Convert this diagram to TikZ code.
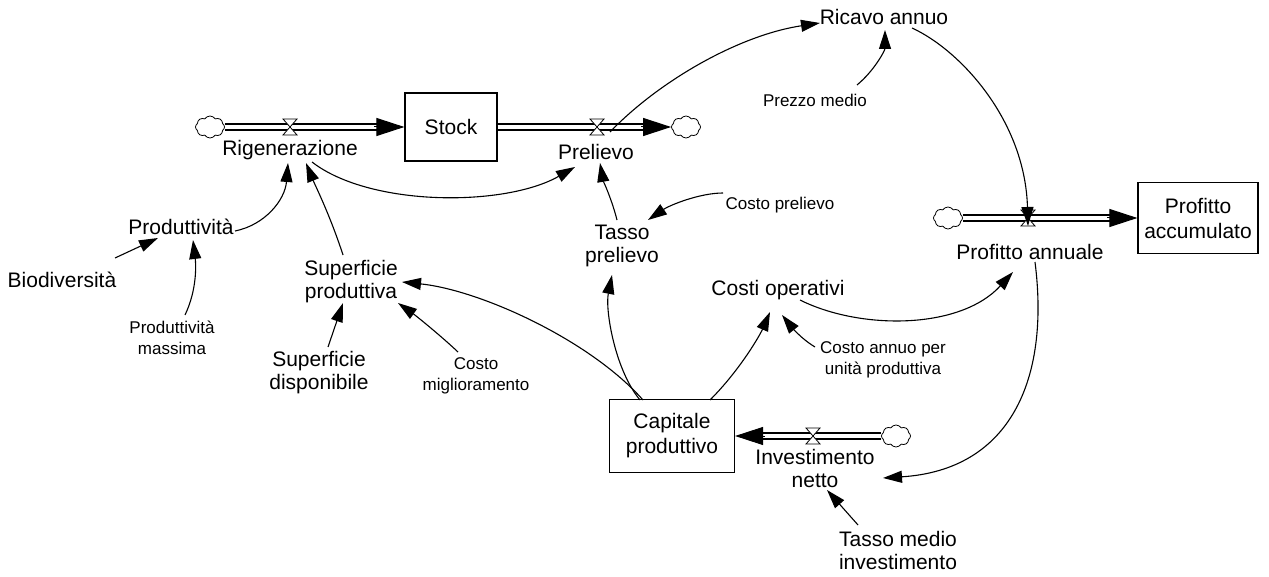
\documentclass[tikz,border=0pt]{standalone}
\usepackage{fontspec}
\setmainfont{Liberation Sans}
\usetikzlibrary{arrows.meta,shapes.symbols,calc}

\begin{document}
\begin{tikzpicture}[x=1pt,y=-1pt,
  lbl/.style={font=\fontsize{21}{23}\selectfont, align=center, inner sep=0pt},
  sml/.style={font=\fontsize{17}{21.5}\selectfont, align=center, inner sep=0pt},
  stockbox/.style={draw, line width=1.2pt, inner sep=0pt, align=center,
    font=\fontsize{21}{25}\selectfont},
  cloudy/.style={cloud, cloud puffs=8, cloud puff arc=115, aspect=1.3, draw,
    line width=0.8pt, fill=white, minimum width=29pt, minimum height=22pt, inner sep=0pt},
  pipe/.style={double, double distance=4.5pt, line width=1.6pt, shorten >=26pt},
  pipetip/.style={-{Triangle[length=28pt,width=18pt]}, line width=1pt},
  link/.style={line width=1.1pt, -{Triangle[length=19pt,width=12pt]}},
  valve/.pic={\draw[fill=white, line width=0.8pt] (-7,-8) -- (7,-8) -- (-7,8) -- (7,8) -- cycle;}
]
\useasboundingbox (0,0) rectangle (1269,577);

% stocks
\node[stockbox, minimum width=92pt, minimum height=68pt] (stock) at (451,127) {Stock};
\node[stockbox, minimum width=120pt, minimum height=71pt] (pacc) at (1198,218) {Profitto\\accumulato};
\node[stockbox, minimum width=125pt, minimum height=73pt] (cap) at (672,436) {Capitale\\produttivo};

% sources and sinks
\node[cloudy] (c1) at (210,127) {};
\node[cloudy] (c2) at (686,127) {};
\node[cloudy] (c3) at (948,218) {};
\node[cloudy] (c4) at (896,436) {};

% valve positions
\coordinate (v1) at (290,127);
\coordinate (v2) at (597,127);
\coordinate (v3) at (1028,218);
\coordinate (v4) at (813,436);

% flow pipes
\draw[pipe] (c1.east) -- (stock.west);
\draw[pipetip] ([xshift=-30pt]stock.west) -- (stock.west);
\draw[pipe] (stock.east) -- (c2.west);
\draw[pipetip] ([xshift=-30pt]c2.west) -- (c2.west);
\draw[pipe] (c3.east) -- (pacc.west);
\draw[pipetip] ([xshift=-30pt]pacc.west) -- (pacc.west);
\draw[pipe] (c4.west) -- (cap.east);
\draw[pipetip] ([xshift=30pt]cap.east) -- (cap.east);

\pic at (v1) {valve};
\pic at (v2) {valve};
\pic at (v3) {valve};
\pic at (v4) {valve};

% variables
\node[lbl] (rig) at (290,150) {Rigenerazione};
\node[lbl] (prel) at (596,152) {Prelievo};
\node[lbl] (ricavo) at (884,17) {Ricavo annuo};
\node[sml] (prezzo) at (815,100) {Prezzo medio};
\node[lbl] (profann) at (1030,252) {Profitto annuale};
\node[lbl] (inv) at (815,468) {Investimento\\netto};
\node[lbl] (tmi) at (898,550) {Tasso medio\\investimento};
\node[lbl] (costiop) at (778,290) {Costi operativi};
\node[sml] (cau) at (883,360) {Costo annuo per\\unità produttiva};
\node[lbl] (tassop) at (622,246) {Tasso\\prelievo};
\node[sml] (costop) at (780,205) {Costo prelievo};
\node[lbl] (supprod) at (351,282) {Superficie\\produttiva};
\node[sml] (costmig) at (476,376) {Costo\\miglioramento};
\node[lbl] (supdisp) at (319,373) {Superficie\\disponibile};
\node[lbl] (produtt) at (181,227) {Produttività};
\node[lbl] (biod) at (62,280) {Biodiversità};
\node[sml] (prodmax) at (172,338) {Produttività\\massima};

% information links
\draw[link] ($(prel)+(14,-20)$) .. controls +(50,-52) and +(-80,12) .. ($(ricavo)+(-64,6)$);
\draw[link] ($(prezzo)+(42,-15)$) .. controls +(18,-15) and +(0,20) .. ($(ricavo)+(1,13)$);
\draw[link] ($(ricavo)+(28,11)$) .. controls +(48,22) and +(-3,-106) .. ($(v3)+(0,8)$);
\draw[link] ($(rig)+(22,12)$) .. controls +(58,45) and +(-70,40) .. ($(prel)+(-21,15)$);
\draw[link] ($(tassop)+(-5,-26)$) .. controls +(-5,-20) and +(3,17) .. ($(prel)+(4,11)$);
\draw[link] ($(costop)+(-57,-12)$) .. controls +(-23,0) and +(22,-15) .. ($(tassop)+(26,-26)$);
\draw[link] ($(cap)+(-32,-36)$) .. controls +(-25,-30) and +(-7,35) .. ($(tassop)+(-10,29)$);
\draw[link] ($(cap)+(-29,-36)$) .. controls +(-53,-60) and +(78,8) .. ($(supprod)+(51,0)$);
\draw[link] ($(costmig)+(-18,-24)$) .. controls +(-18,-17) and +(17,12) .. ($(supprod)+(47,21)$);
\draw[link] ($(supdisp)+(9,-26)$) -- ($(supprod)+(-8,21)$);
\draw[link] ($(supprod)+(-8,-27)$) .. controls +(-13,-40) and +(9,22) .. ($(rig)+(16,13)$);
\draw[link] ($(produtt)+(54,4)$) .. controls +(30,-6) and +(-3,37) .. ($(rig)+(-2,13)$);
\draw[link] ($(biod)+(53,-22)$) -- ($(produtt)+(-23,11)$);
\draw[link] ($(prodmax)+(13,-23)$) .. controls +(12,-25) and +(3,25) .. ($(produtt)+(12,13)$);
\draw[link] ($(cap)+(38,-36)$) .. controls +(30,-30) and +(-10,23) .. ($(costiop)+(-8,22)$);
\draw[link] ($(cau)+(-68,-13)$) .. controls +(-15,-9) and +(8,10) .. ($(costiop)+(4,25)$);
\draw[link] ($(costiop)+(22,10)$) .. controls +(60,30) and +(-53,58) .. ($(profann)+(-17,20)$);
\draw[link] ($(profann)+(5,10)$) .. controls +(15,118) and +(127,-8) .. ($(inv)+(68,10)$);
\draw[link] ($(tmi)+(-40,-25)$) -- ($(inv)+(12,22)$);

\end{tikzpicture}
\end{document}
